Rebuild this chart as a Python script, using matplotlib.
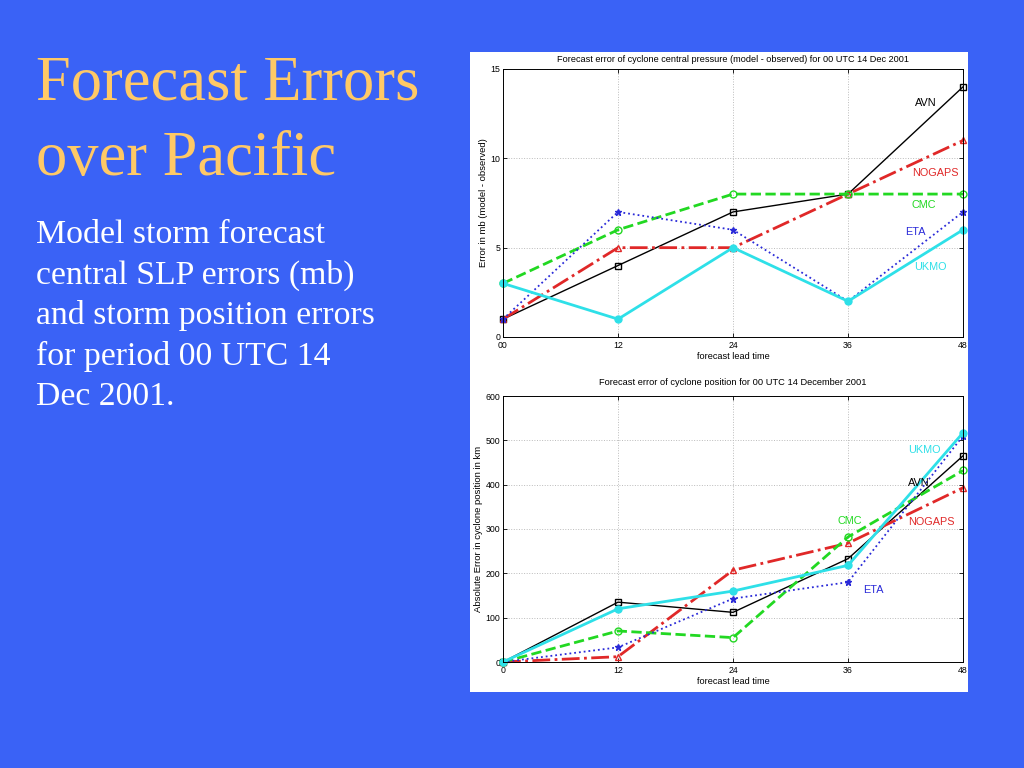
import matplotlib.pyplot as plt
import matplotlib.patches as patches

# lead times (hours)
lead = [0, 12, 24, 36, 48]

# central pressure error (mb)
slp_avn = [1, 4, 7, 8, 14]
slp_nogaps = [1, 5, 5, 8, 11]
slp_cmc = [3, 6, 8, 8, 8]
slp_eta = [1, 7, 6, 2, 7]
slp_ukmo = [3, 1, 5, 2, 6]

# position error (km)
pos_avn = [0, 135, 112, 233, 465]
pos_nogaps = [0, 12, 207, 268, 393]
pos_cmc = [0, 70, 55, 282, 432]
pos_eta = [0, 33, 143, 180, 510]
pos_ukmo = [0, 120, 160, 218, 517]

modelos = ['AVN', 'NOGAPS', 'CMC', 'ETA', 'UKMO']
cores = {'AVN': 'black', 'NOGAPS': '#E02828', 'CMC': '#22D822',
         'ETA': '#2A2AD8', 'UKMO': '#2EE0E8'}
estilos = {
    'AVN': dict(ls='-', lw=1.0, marker='s', ms=4, mfc='none'),
    'NOGAPS': dict(ls='-.', lw=2.0, marker='^', ms=5, mfc='none'),
    'CMC': dict(ls='--', lw=2.0, marker='o', ms=5, mfc='none'),
    'ETA': dict(ls=':', lw=1.3, marker='*', ms=5),
    'UKMO': dict(ls='-', lw=2.0, marker='o', ms=5),
}

BG = '#3A62F6'
SANS = 'Liberation Sans'
fig = plt.figure(figsize=(10.24, 7.68), dpi=100, facecolor=BG)

# --- texto do slide ---
fig.text(36 / 1024, 1 - 100 / 768, 'Forecast Errors', color='#FFC966',
         fontsize=45, family='Liberation Serif', va='baseline')
fig.text(36 / 1024, 1 - 175 / 768, 'over Pacific', color='#FFC966',
         fontsize=45, family='Liberation Serif', va='baseline')
corpo = ['Model storm forecast', 'central SLP errors (mb)',
         'and storm position errors', 'for period 00 UTC 14', 'Dec 2001.']
for i, linha in enumerate(corpo):
    fig.text(36 / 1024, 1 - (243 + 40.6 * i) / 768, linha, color='white',
             fontsize=24.3, family='Liberation Serif', va='baseline')

# painel branco das figuras
fig.patches.append(patches.Rectangle((470 / 1024, 1 - 692 / 768), 498 / 1024, 640 / 768,
                                     transform=fig.transFigure, facecolor='white',
                                     edgecolor='none', zorder=-5))


def estilo_eixo(ax):
    ax.set_facecolor('white')
    ax.tick_params(direction='in', top=True, right=True, labelsize=6.3, length=3,
                   width=0.6)
    ax.tick_params(axis='x', pad=3)
    ax.tick_params(axis='y', pad=2)
    for lab in ax.get_xticklabels() + ax.get_yticklabels():
        lab.set_family(SANS)
    ax.grid(True, linestyle=':', color='#BBBBBB', linewidth=0.7)
    for s in ax.spines.values():
        s.set_linewidth(0.7)
    ax.set_xlim(0, 48)


# --- Gráfico 1: pressão central ---
ax1 = fig.add_axes([503 / 1024, 1 - 337 / 768, 460 / 1024, 268 / 768])
dados1 = [slp_avn, slp_nogaps, slp_cmc, slp_eta, slp_ukmo]
for nome, y in zip(modelos, dados1):
    ax1.plot(lead, y, color=cores[nome], clip_on=False, **estilos[nome])
ax1.set_ylim(0, 15)
ax1.set_yticks([0, 5, 10, 15])
ax1.set_xticks(lead)
ax1.set_xticklabels(['00', '12', '24', '36', '48'])
estilo_eixo(ax1)
ax1.set_title('Forecast error of cyclone central pressure (model - observed) for 00 UTC 14 Dec 2001',
              fontsize=6.6, pad=5, family=SANS)
ax1.set_xlabel('forecast lead time', fontsize=6.6, labelpad=1, family=SANS)
ax1.set_ylabel('Error in mb (model - observed)', fontsize=6.8, labelpad=2, family=SANS)
rotulos1 = {'AVN': (44.1, 13.1), 'NOGAPS': (45.1, 9.2), 'CMC': (43.9, 7.4),
            'ETA': (43.0, 5.9), 'UKMO': (44.6, 3.9)}
for nome, (tx, ty) in rotulos1.items():
    ax1.text(tx, ty, nome, color=cores[nome], fontsize=7.8, ha='center', va='center',
             family=SANS)

# --- Gráfico 2: posição ---
ax2 = fig.add_axes([503 / 1024, 1 - 662 / 768, 460 / 1024, 266 / 768])
dados2 = [pos_avn, pos_nogaps, pos_cmc, pos_eta, pos_ukmo]
for nome, y in zip(modelos, dados2):
    ax2.plot(lead, y, color=cores[nome], clip_on=False, **estilos[nome])
ax2.set_ylim(0, 600)
ax2.set_yticks([0, 100, 200, 300, 400, 500, 600])
ax2.set_xticks(lead)
estilo_eixo(ax2)
ax2.set_title('Forecast error of cyclone position for 00 UTC 14 December 2001',
              fontsize=6.7, pad=8, family=SANS)
ax2.set_xlabel('forecast lead time', fontsize=6.6, labelpad=1, family=SANS)
ax2.set_ylabel('Absolute Error in cyclone position in km', fontsize=6.8, labelpad=2,
               family=SANS)
rotulos2 = {'UKMO': (44.0, 478), 'AVN': (43.4, 404), 'CMC': (36.2, 318),
            'NOGAPS': (44.7, 316), 'ETA': (38.7, 162)}
for nome, (tx, ty) in rotulos2.items():
    ax2.text(tx, ty, nome, color=cores[nome], fontsize=7.8, ha='center', va='center',
             family=SANS)

fig.savefig('out.png', dpi=100, facecolor=BG)
